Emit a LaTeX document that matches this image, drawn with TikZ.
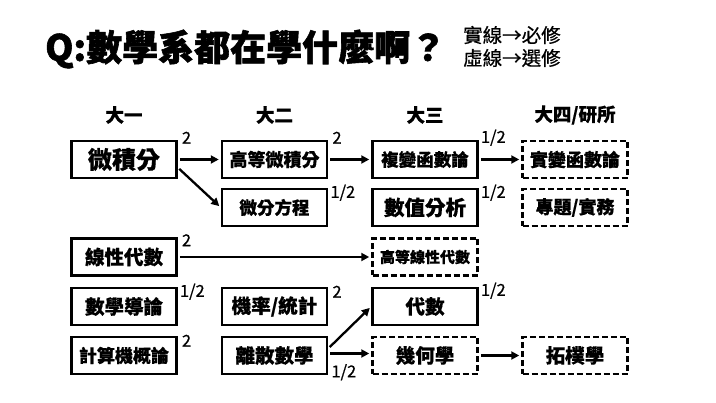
\documentclass[tikz,border=0pt]{standalone}
\usepackage{fontspec}
\setmainfont{Noto Sans CJK TC}[BoldFeatures={FakeBold=0.5}]
\newfontfamily\titlefont[FakeBold=1.6]{Noto Sans CJK TC}
\newfontfamily\legfont[FakeBold=0.6]{Noto Sans CJK TC}
\usetikzlibrary{arrows.meta,calc}
\newcommand\fsz[1]{\fontsize{#1}{#1}\selectfont}
\begin{document}
\begin{tikzpicture}[x=1pt,y=-1pt,
  box/.style={draw, line width=2.5pt, minimum width=105pt, minimum height=37pt, inner sep=0pt, font=\bfseries},
  opt/.style={box, dash pattern=on 6pt off 3pt},
  lbl/.style={font=\legfont\fsz{16.5}, inner sep=0pt, anchor=west},
  head/.style={font=\bfseries\fsz{18.5}, inner sep=0pt},
  arr/.style={-{Triangle[length=8pt,width=8pt]}, line width=2.3pt, shorten <=2pt, shorten >=2pt}]
\fill[white] (0,0) rectangle (716,403);
\useasboundingbox (0,0) rectangle (716,403);

% title and legend
\node[anchor=west, inner sep=0pt, font=\titlefont\bfseries\fsz{36}] (title) at (45,49) {Q:數學系都在學什麼啊？};
\node[anchor=west, inner sep=0pt, font=\legfont\fsz{19.5}] (leg1) at (463,35) {實線→必修};
\node[anchor=west, inner sep=0pt, font=\legfont\fsz{19.5}] (leg2) at (463,58) {虛線→選修};

% headings
\node[head] (h1) at (124,115) {大一};
\node[head] (h2) at (274.5,115) {大二};
\node[head] (h3) at (425,115) {大三};
\node[head] (h4) at (575,115) {大四/研所};

% column 1
\node[box, font=\bfseries\fsz{24}] (calc) at (124,159.5) {微積分};
\node[box, font=\bfseries\fsz{19.5}] (lin) at (124,257) {線性代數};
\node[box, font=\bfseries\fsz{19.5}] (intro) at (124,306.5) {數學導論};
\node[box, font=\bfseries\fsz{18}] (cs) at (124,355.5) {計算機概論};

% column 2
\node[box, font=\bfseries\fsz{18}] (hcalc) at (274.5,159.5) {高等微積分};
\node[box, font=\bfseries\fsz{17.5}] (ode) at (274.5,207.5) {微分方程};
\node[box, font=\bfseries\fsz{19.5}] (prob) at (274.5,306.5) {機率/統計};
\node[box, font=\bfseries\fsz{19.5}] (disc) at (274.5,355.5) {離散數學};

% column 3
\node[box, font=\bfseries\fsz{17.5}] (cplx) at (425,159.5) {複變函數論};
\node[box, font=\bfseries\fsz{20.5}] (num) at (425,207.5) {數值分析};
\node[opt, font=\bfseries\fsz{15}] (hlin) at (425,257) {高等線性代數};
\node[box, font=\bfseries\fsz{19.5}] (alg) at (425,306.5) {代數};
\node[opt, font=\bfseries\fsz{19.5}] (geo) at (425,355.5) {幾何學};

% column 4
\node[opt, font=\bfseries\fsz{18}] (real) at (575,159.5) {實變函數論};
\node[opt, font=\bfseries\fsz{18}] (proj) at (575,207.5) {專題/實務};
\node[opt, font=\bfseries\fsz{19.5}] (topo) at (575,355.5) {拓樸學};

% credit labels
\node[lbl] (lcalc) at ([xshift=4pt,yshift=2pt]calc.north east) {2};
\node[lbl] (lhcalc) at ([xshift=4pt,yshift=2pt]hcalc.north east) {2};
\node[lbl] (lcplx) at ([xshift=2pt,yshift=2pt]cplx.north east) {1/2};
\node[lbl] (lode) at ([xshift=2pt,yshift=-5pt]ode.north east) {1/2};
\node[lbl] (lnum) at ([xshift=2pt,yshift=-5pt]num.north east) {1/2};
\node[lbl] (llin) at ([xshift=4pt,yshift=-3pt]lin.north east) {2};
\node[lbl] (lintro) at ([xshift=2pt,yshift=-5pt]intro.north east) {1/2};
\node[lbl] (lcs) at ([xshift=4pt,yshift=-5pt]cs.north east) {2};
\node[lbl] (lprob) at ([xshift=4pt,yshift=-5pt]prob.north east) {2};
\node[lbl] (lalg) at ([xshift=2pt,yshift=-4pt]alg.north east) {1/2};
\node[lbl] (ldisc) at ([xshift=3pt,yshift=3pt]disc.south east) {1/2};

% connectors
\draw[arr] (calc.east) -- (hcalc.west);
\draw[arr] ([yshift=-8pt]calc.east) -- (ode.west);
\draw[arr] (hcalc.east) -- (cplx.west);
\draw[arr] (cplx.east) -- (real.west);
\draw[arr] (lin.east) -- (hlin.west);
\draw[arr] ([yshift=7pt]disc.east) -- (alg.west);
\draw[arr] ([yshift=2pt]disc.east) -- ([yshift=2pt]geo.west);
\draw[arr] (geo.east) -- (topo.west);
\end{tikzpicture}
\end{document}
